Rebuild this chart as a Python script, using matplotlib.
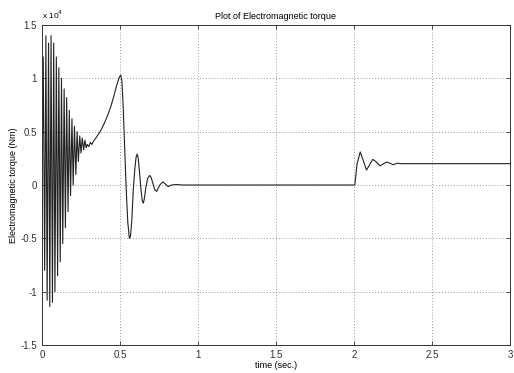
import matplotlib.pyplot as plt
import numpy as np

plt.rcParams['font.family'] = ['Liberation Sans', 'DejaVu Sans']

# start-up transient: alternating peaks / troughs (x 1e4 Nm)
t_start = [0.0, 0.008, 0.017, 0.025, 0.033, 0.042, 0.050, 0.058, 0.067, 0.075,
           0.083, 0.092, 0.100, 0.108, 0.117, 0.125, 0.133, 0.142, 0.150, 0.158,
           0.167, 0.175, 0.183, 0.192, 0.200, 0.208, 0.217, 0.225, 0.233, 0.242,
           0.250, 0.258, 0.267, 0.275, 0.283]
v_start = [0.0, 1.20, -0.80, 1.40, -1.08, 1.33, -1.14, 1.40, -1.10, 1.33,
           -1.00, 1.20, -0.85, 1.10, -0.72, 1.00, -0.55, 0.90, -0.40, 0.82,
           -0.25, 0.70, -0.10, 0.62, 0.00, 0.55, 0.10, 0.50, 0.22, 0.46,
           0.30, 0.44, 0.33, 0.42, 0.35]

# rise, peak and damped swing after 0.5 s
t_mid = [0.29, 0.30, 0.31, 0.32, 0.33, 0.35, 0.38, 0.40, 0.42, 0.44, 0.46, 0.48,
         0.495, 0.505, 0.512, 0.52, 0.53, 0.54, 0.55, 0.56, 0.567, 0.575, 0.585,
         0.595, 0.603, 0.61, 0.617, 0.625, 0.635, 0.643, 0.65, 0.657, 0.665,
         0.677, 0.69, 0.70, 0.71, 0.722, 0.735, 0.745, 0.755, 0.775, 0.79, 0.81,
         0.83, 0.86, 0.9, 2.0]
v_mid = [0.38, 0.36, 0.40, 0.38, 0.41, 0.45, 0.52, 0.58, 0.65, 0.73, 0.83, 0.94,
         1.01, 1.03, 0.98, 0.75, 0.35, -0.05, -0.35, -0.50, -0.48, -0.35, -0.05,
         0.15, 0.26, 0.29, 0.25, 0.12, -0.05, -0.15, -0.17, -0.12, -0.03,
         0.06, 0.09, 0.07, 0.02, -0.04, -0.06, -0.03, 0.00, 0.03, 0.01, -0.015,
         0.0, 0.005, 0.0, 0.0]

# load step at 2 s
t_step = [2.005, 2.02, 2.04, 2.055, 2.08, 2.1, 2.12, 2.14, 2.167, 2.19, 2.21,
          2.23, 2.25, 2.28, 2.3, 3.0]
v_step = [0.0, 0.2, 0.31, 0.25, 0.14, 0.19, 0.24, 0.22, 0.18, 0.20, 0.215,
          0.205, 0.19, 0.205, 0.2, 0.2]

t = np.array(t_start + t_mid + t_step)
torque = np.array(v_start + v_mid + v_step) * 1e4

xticks = [0, 0.5, 1, 1.5, 2, 2.5, 3]
xlabels = ['0', '0.5', '1', '1.5', '2', '2.5', '3']
yticks = [-1.5, -1, -0.5, 0, 0.5, 1, 1.5]
ylabels = ['-1.5', '-1', '-0.5', '0', '0.5', '1', '1.5']

fig = plt.figure(figsize=(5.14, 3.73), dpi=100)
ax = fig.add_axes([0.0817, 0.075, 0.9105, 0.858])
ax.plot(t, torque, color='#222222', lw=0.8)

ax.set_xlim(0, 3)
ax.set_ylim(-1.5e4, 1.5e4)
ax.set_xticks(xticks)
ax.set_xticklabels(xlabels)
ax.set_yticks([y * 1e4 for y in yticks])
ax.set_yticklabels(ylabels)
ax.tick_params(direction='in', labelsize=7, length=3, width=0.6, top=True, right=True,
               colors='#333333')
ax.grid(True, linestyle=(0, (1, 2)), color='#999999', lw=0.7)
for s in ax.spines.values():
    s.set_linewidth(0.7)
    s.set_color('#333333')

ax.set_title('Plot of Electromagnetic torque', fontsize=6.5, pad=4)
ax.set_xlabel('time (sec.)', fontsize=6.5, labelpad=1)
ax.set_ylabel('Electromagnetic torque (Nm)', fontsize=6.5, labelpad=2)
ax.text(0.0, 1.012, r'x 10$^4$', transform=ax.transAxes, fontsize=6, ha='left', va='bottom')

fig.savefig('out.png', dpi=100)
